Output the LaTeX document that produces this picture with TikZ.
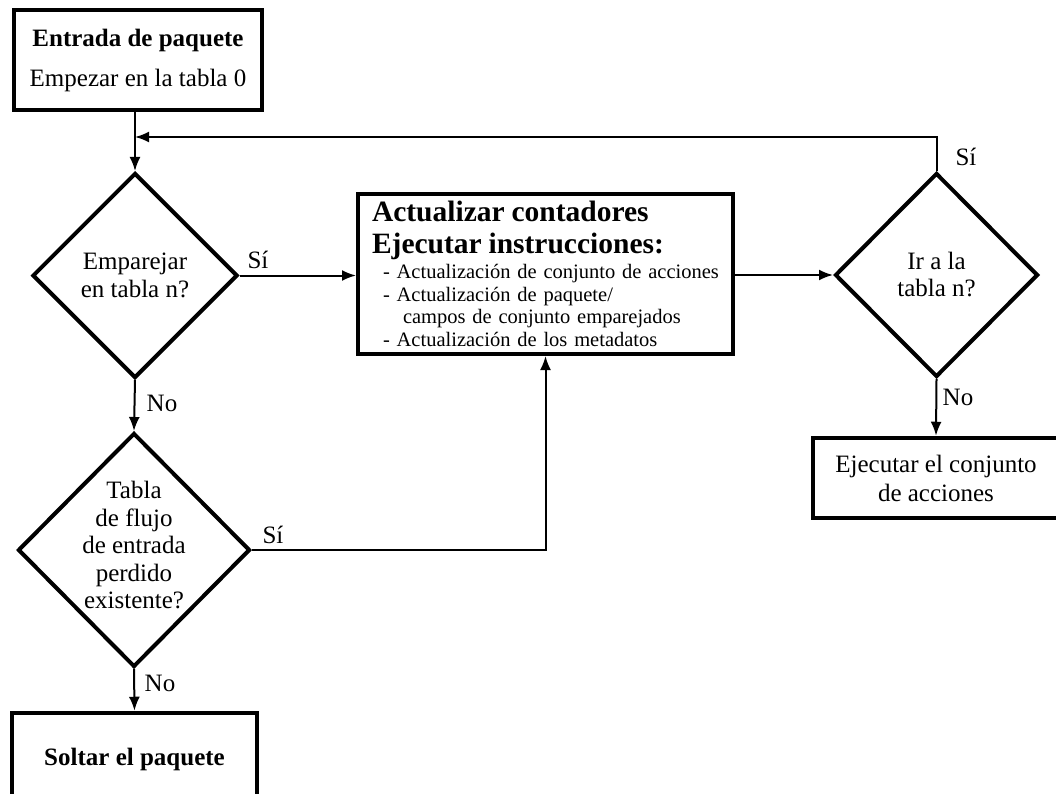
\documentclass[tikz,border=0pt]{standalone}
\usepackage{fontspec}
\setmainfont{Liberation Serif}
\usetikzlibrary{shapes.geometric,arrows.meta}
\begin{document}
\begin{tikzpicture}[x=1pt,y=-1pt,
  every node/.style={inner sep=0pt},
  box/.style={draw, line width=4.5pt, align=center, font=\fontsize{25}{29}\selectfont},
  decision/.style={draw, diamond, line width=4pt, align=center, font=\fontsize{25}{28}\selectfont},
  flow/.style={line width=2pt, -{Latex[length=14pt,width=11pt]}},
  lbl/.style={font=\fontsize{25}{28}\selectfont}]
\useasboundingbox (0,0) rectangle (1056,794);

% boxes and decisions
\node[box, minimum width=248pt, minimum height=100pt] (start) at (138,60)
  {\textbf{Entrada de paquete}\\[11pt]Empezar en la tabla 0};

\node[decision, minimum width=205pt, minimum height=205pt] (d1) at (135,275.5)
  {Emparejar\\en tabla n?};

\node[box, line width=4pt, minimum width=375pt, minimum height=160pt,
      text width=347pt, align=left, font=\fontsize{20.5}{22.5}\selectfont] (act) at (545.5,274)
  {{\fontsize{29.5}{32}\selectfont\bfseries
    \mbox{Actualizar contadores}\par
    \mbox{Ejecutar instrucciones:}\par}
   \vspace{2.5pt}
   \mbox{\hspace*{11pt}- Actualización de conjunto de acciones}\par
   \mbox{\hspace*{11pt}- Actualización de paquete/}\par
   \mbox{\hspace*{31pt}campos de conjunto emparejados}\par
   \mbox{\hspace*{11pt}- Actualización de los metadatos}};

\node[decision, minimum width=203pt, minimum height=204pt, font=\fontsize{25}{27}\selectfont] (d3) at (936.5,275)
  {Ir a la\\tabla n?};

\node[box, minimum width=246pt, minimum height=80pt] (exec) at (936,478)
  {Ejecutar el conjunto\\de acciones};

\node[decision, minimum width=232pt, minimum height=234pt] (d2) at (134,550) {};
\node[font=\fontsize{25}{27.5}\selectfont, align=center] (d2text) at (134,545)
  {Tabla\\de flujo\\de entrada\\perdido\\existente?};

\node[box, font=\fontsize{25}{29}\selectfont\bfseries, minimum width=245pt, minimum height=92pt] (drop) at (134.5,759)
  {Soltar el paquete};

% connectors
\coordinate (j) at (d1.north |- 0,137);
\draw[flow] (start.south -| d1.north) -- (d1.north);
\draw[flow] (d3.north) |- (j);
\draw[flow] (d1.east) -- (d1.east -| act.west);
\draw[flow] (act.east |- d3.west) -- (d3.west);
\draw[flow] (d3.south) -- (exec.north);
\draw[flow] (d1.south) -- (d2.north);
\draw[flow] (d2.south) -- (drop.north);
\draw[flow] (d2.east) -| (act.south);

% branch labels
\node[lbl] (s1) at (258,260) {Sí};
\node[lbl] (s2) at (273,535) {Sí};
\node[lbl] (s3) at (966,157) {Sí};
\node[lbl] (n1) at (162,403) {No};
\node[lbl] (n2) at (160,683) {No};
\node[lbl] (n3) at (958,397) {No};
\end{tikzpicture}
\end{document}
